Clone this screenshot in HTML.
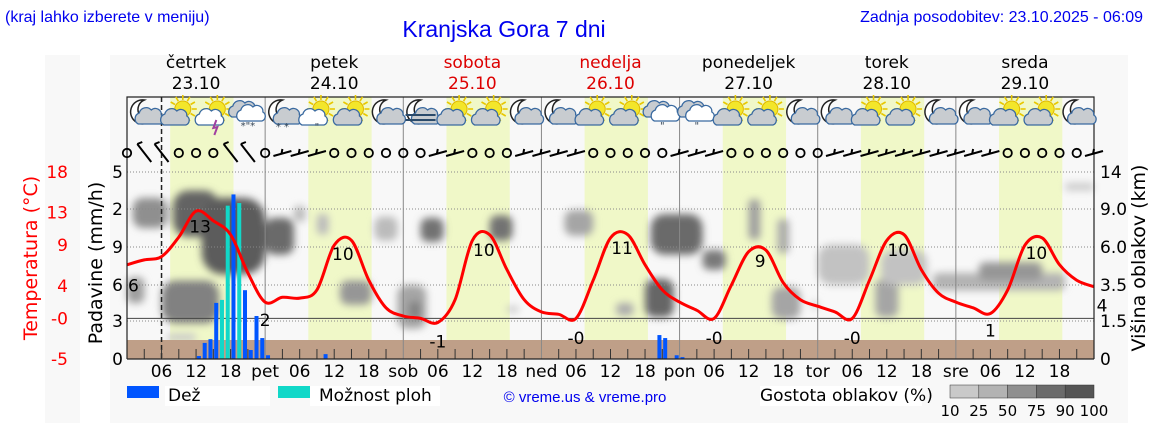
<!DOCTYPE html>
<html><head><meta charset="utf-8"><style>
html,body{margin:0;padding:0;background:#fff;}
svg{display:block;font-family:"DejaVu Sans","Liberation Sans",sans-serif;}
</style></head><body>
<svg id="c" width="1152" height="443" viewBox="0 0 1152 443" xmlns="http://www.w3.org/2000/svg">
<defs>
<filter id="blur" x="-50%" y="-50%" width="200%" height="200%"><feGaussianBlur stdDeviation="4"/></filter>
</defs>
<rect x="45" y="55" width="35" height="368" fill="#f8f8f8"/>
<rect x="110" y="55" width="1018" height="368" fill="#f8f8f8"/>
<text x="5" y="22" font-family="Liberation Sans, sans-serif" font-size="16" fill="#0000ee">(kraj lahko izberete v meniju)</text>
<text x="504" y="37" text-anchor="middle" font-family="Liberation Sans, sans-serif" font-size="23" fill="#0000ee">Kranjska Gora 7 dni</text>
<text x="1143" y="22" text-anchor="end" font-family="Liberation Sans, sans-serif" font-size="16" fill="#0000ee">Zadnja posodobitev: 23.10.2025 - 06:09</text>
<g id="plot"></g>
</svg>
<script>
// ---- data ----
const dayNames = ["četrtek","petek","sobota","nedelja","ponedeljek","torek","sreda"];
const dayDates = ["23.10","24.10","25.10","26.10","27.10","28.10","29.10"];
const dayRed = [false,false,true,true,false,false,false];
const dayAbbr = ["pet","sob","ned","pon","tor","sre"];
const tempHours = [0,3,6,9,12,15,18,21,24,27,30,33,36,39,42,45,48,51,54,57,60,63,66,69,72,75,78,81,84,87,90,93,96,99,102,105,108,111,114,117,120,123,126,129,132,135,138,141,144,147,150,153,156,159,162,165,168];
const tempValues = [6.6,7.2,7.6,10.0,13.2,12.0,10.3,5.6,2.0,2.6,2.5,3.5,9.0,9.6,4.7,1.3,0.3,0.0,-0.5,2.3,9.6,10.3,6.0,2.3,0.8,0.5,0.0,4.7,9.9,10.3,6.6,3.5,2.0,1.0,0.0,4.1,8.2,8.4,4.4,2.3,1.5,0.8,0.0,4.7,9.6,10.3,6.0,3.1,2.0,1.3,0.6,3.5,9.0,9.9,6.6,4.7,3.9];
const tempLabelHours = [0,12.7,24,37.5,54,62,78,86,102,110,126,134,150,158,168];
const tempLabelValues = [6.4,13.3,2,9.9,-0.6,10.4,-0.2,10.6,-0.2,9,-0.2,10.4,0.7,10.0,3.9];
const tempLabelKind = ["edge","max","min","max","min","max","min","max","min","max","min","max","min","max","edge"];
const rainHours = [12,13,14,15,18,20,21,22,23,24,34,92,93,95,96];
const rainValues = [0.08,0.43,0.53,1.5,4.4,1.84,0.24,1.15,0.56,0.1,0.13,0.64,0.56,0.1,0.05];
const showerHours = [16,17,19];
const showerValues = [1.58,4.1,4.17];
// cloud blobs: start hour, end hour, low km, high km, density %
const cloudH0 = [1,8,13,6,24,0,7,29,33,43,37,47,49,51,63,66,76,91,100,90,85,108,112,113,119,120,130,131,140,148,163];
const cloudH1 = [7,16,24,16,29,3,12,31,35,47,42.5,52,51,55,67,68,81,100,104,95,88,110,117,115,120,129,134,139,163,159,168];
const cloudK0 = [7.5,6.8,4.2,1.4,5.5,2.5,0.7,8.0,7.0,6.5,2.4,1.2,1.6,6.4,6.5,2.0,6.9,5.5,4.5,1.7,1.8,6.6,1.6,5.6,2.2,3.5,1.7,3.5,3.2,3.8,11.5];
const cloudK1 = [10.5,11.5,10.5,3.8,8.3,4.0,1.0,9.4,8.6,8.4,3.8,3.5,2.6,8.3,8.5,2.3,8.9,8.6,5.8,3.9,2.5,10.3,3.4,8.2,2.6,6.2,3.9,5.8,4.3,5.0,12.5];
const cloudD = [60,90,95,70,85,50,20,30,30,30,55,45,70,80,80,25,45,85,75,88,40,50,45,40,25,25,45,25,35,55,20];
const windHours = [0,3,6,9,12,15,18,21,24,27,30,33,36,39,42,45,48,51,54,57,60,63,66,69,72,75,78,81,84,87,90,93,96,99,102,105,108,111,114,117,120,123,126,129,132,135,138,141,144,147,150,153,156,159,162,165,168];
const windSpeed = [0,3,3,0,0,0,3,3,0,2,2,2,0,0,0,0,0,0,2,2,0,0,0,2,2,2,2,0,0,0,0,0,2,2,2,0,0,0,0,0,0,2,2,2,2,2,2,2,2,2,2,0,0,0,0,0,2];
const iconTypes = ["moon","sun","storm","snow","moonsnow","sunrain","sun","moon","fog","sun","sun","moon","moon","sun","sun","rain","rain","sun","sun","moon","moon","sun","sun","moon","moon","sun","sun","moon"];
const iconOffsets = [3,9,15,21];
const tempTicks = [18,13,9,4,-0,-5];
const tempTickText = ["18","13","9","4","-0","-5"];
const precipTickText = ["5","2","9","6","3","0"];
const cloudTickKm = [14,9,6,3.5,1.5,0];
const cloudTickText = ["14","9.0","6.0","3.5","1.5","0"];

// ---- axes ----
const X0=127, X1=1094, Y0=359, YT=172;
const xh = h => X0 + h*(X1-X0)/168;
const yt = t => 318.4 - t*8.13;
const yp = p => Y0 - p*37.4;
const kmPts=[[0,359],[1.5,321],[3.5,285],[6,247],[9,209],[14,172],[20,150]];
function yk(k){for(let i=0;i<kmPts.length-1;i++){const a=kmPts[i],b=kmPts[i+1];if(k<=b[0]){return a[1]+(k-a[0])/(b[0]-a[0])*(b[1]-a[1]);}}return 150;}
const NS="http://www.w3.org/2000/svg";
const plot=document.getElementById('plot');
function mk(tag,attrs,parent){const e=document.createElementNS(NS,tag);for(const k in attrs)e.setAttribute(k,attrs[k]);(parent||plot).appendChild(e);return e;}
function txt(x,y,s,attrs,parent){const e=mk('text',Object.assign({x:x,y:y},attrs),parent);e.textContent=s;return e;}

let e=mk('rect',{x:X0,y:97,width:X1-X0,height:Y0-97,fill:'#f8f8f8'});


for(let d=0;d<7;d++){
  e=mk('rect',{x:xh(d*24+7.5),y:97,width:xh(18.5)-xh(7.5),height:Y0-97,fill:'#f0f8c8'});
  
  
}
const cg=mk('g',{filter:'url(#blur)'});


function grayOf(d){const v=Math.round(230-d*1.45);return 'rgb('+v+','+v+','+v+')';}
for(let i=0;i<cloudH0.length;i++){
  const x=xh(cloudH0[i]),w=xh(cloudH1[i])-x,y=yk(cloudK1[i]),h=yk(cloudK0[i])-y;
  e=mk('rect',{x:x,y:y,width:w,height:h,rx:Math.min(w,h)/3,fill:grayOf(cloudD[i])},cg);
  
  
}
e=mk('rect',{x:X0,y:340,width:X1-X0,height:19,fill:'#bf9f88'});


[172,209,247,285,321].forEach(y=>{
  e=mk('line',{x1:X0,x2:X1,y1:y,y2:y,stroke:'#888','stroke-width':1,'stroke-dasharray':'1,2'});
  
  
});
e=mk('line',{x1:X0,x2:X1,y1:yt(0),y2:yt(0),stroke:'#444','stroke-width':1});


for(let d=1;d<7;d++){
  e=mk('line',{x1:xh(d*24),x2:xh(d*24),y1:97,y2:Y0,stroke:'#888','stroke-width':1});
  
  
}
e=mk('line',{x1:xh(6),x2:xh(6),y1:97,y2:Y0,stroke:'#222','stroke-width':1.5,'stroke-dasharray':'5,3'});


function bar(h,v,col,name){
  const w=4,x=xh(h+0.5)-w/2;
  const b=mk('rect',{x:x,y:yp(v),width:w,height:Y0-yp(v),fill:col});
  
  
}
rainHours.forEach((h,i)=>bar(h,rainValues[i],'#0055ff','rain-bar'));
showerHours.forEach((h,i)=>bar(h,showerValues[i],'#11d8c8','shower-bar'));
const pts=tempHours.map((h,i)=>[xh(h),yt(tempValues[i])]);
let dstr='M'+pts[0][0]+','+pts[0][1];
for(let i=0;i<pts.length-1;i++){
  const p0=pts[Math.max(0,i-1)],p1=pts[i],p2=pts[i+1],p3=pts[Math.min(pts.length-1,i+2)];
  const c1=[p1[0]+(p2[0]-p0[0])/6,p1[1]+(p2[1]-p0[1])/6],c2=[p2[0]-(p3[0]-p1[0])/6,p2[1]-(p3[1]-p1[1])/6];
  dstr+=' C'+c1[0].toFixed(1)+','+c1[1].toFixed(1)+' '+c2[0].toFixed(1)+','+c2[1].toFixed(1)+' '+p2[0].toFixed(1)+','+p2[1].toFixed(1);
}
e=mk('path',{d:dstr,fill:'none',stroke:'#ff0000','stroke-width':3,'stroke-linejoin':'round'});


tempLabelHours.forEach((h,i)=>{
  const v=tempLabelValues[i],r=Math.round(v);
  const s=(v<0&&r===0)?'-0':String(r);
  const k=tempLabelKind[i];
  let x=xh(h), anchor='middle';
  if(i===0){x=X0+1;anchor='start';}
  if(i===tempLabelHours.length-1){x=X1+8;anchor='middle';}
  const y=yt(v)+(k==='max'?22:(k==='min'?24:25));
  const t=txt(x,y,s,{'text-anchor':anchor,'font-size':17,fill:'#000'});
  
  
});
for(let h=3;h<168;h+=3){
  e=mk('line',{x1:xh(h),x2:xh(h),y1:Y0,y2:Y0-(h%24===0?Y0-97:10),stroke:h%24===0?'none':'#333','stroke-width':1});
  
  
}
e=mk('path',{d:'M'+X0+','+Y0+' V97 H'+X1+' V'+Y0+' M'+X0+','+Y0+' H'+X1,fill:'none',stroke:'#222','stroke-width':1.2});


const wg=mk('g',{stroke:'#000',fill:'none','stroke-width':2});


windHours.forEach((h,i)=>{
  const x=xh(h),y=153,s=windSpeed[i];
  let m;
  if(s===0){m=mk('circle',{cx:x,cy:y,r:4.2,'stroke-width':1.8},wg);}
  else if(s===3){m=mk('path',{d:'M'+(x-7)+','+(y-9)+' L'+(x+7)+','+(y+9)+' M'+(x-7)+','+(y-9)+' l5,-2'},wg);}
  else{m=mk('path',{d:'M'+(x-9)+','+(y+3)+' L'+(x+9)+','+(y-2)+' M'+(x-1)+','+(y+1)+' l1,-5'},wg);}
  
  
});
function cloud(g,cx,cy,fill){
  mk('path',{d:'M'+(cx-12)+','+(cy+7)+' a6,6 0 0 1 1,-11 a7,7 0 0 1 12,-3 a6,6 0 0 1 10,5 a5,5 0 0 1 -1,9 z',fill:fill,stroke:'#3a6aa0','stroke-width':1.3},g);
}
function sun(g,cx,cy){
  for(let a=0;a<360;a+=30){const r=a*Math.PI/180;mk('line',{x1:cx+Math.cos(r)*9,y1:cy+Math.sin(r)*9,x2:cx+Math.cos(r)*14,y2:cy+Math.sin(r)*14,stroke:'#e8c800','stroke-width':1.6},g);}
  mk('circle',{cx:cx,cy:cy,r:8,fill:'#f3e62a',stroke:'#e0b800','stroke-width':1},g);
}
function moon(g,cx,cy){
  mk('path',{d:'M'+(cx+3)+','+(cy-12)+' a12,12 0 1 0 8,19 a10,10 0 0 1 -8,-19 z',fill:'#fff',stroke:'#222','stroke-width':1.5},g);
}
iconTypes.forEach((t,i)=>{
  const d=Math.floor(i/4),h=d*24+iconOffsets[i%4];
  const cx=xh(h),cy=112;
  const g=mk('g',{});
  
  
  if(t==='moon'||t==='moonsnow'||t==='fog'){moon(g,cx-3,cy);cloud(g,cx+6,cy+5,'#c8ccd0');}
  if(t==='fog'){[0,5].forEach(o=>mk('line',{x1:cx-15,x2:cx+15,y1:cy+3+o,y2:cy+3+o,stroke:'#2a4a6a','stroke-width':2},g));}
  if(t==='sun'||t==='sunrain'||t==='storm'){sun(g,cx+4,cy-3);cloud(g,cx-3,cy+6,t==='sun'?'#c8ccd0':'#fff');}
  if(t==='storm'){mk('path',{d:'M'+(cx+3)+','+(cy+8)+' l-3,8 l4,-1 l-3,8',fill:'none',stroke:'#a040a0','stroke-width':2},g);}
  if(t==='snow'||t==='rain'){cloud(g,cx-4,cy-2,'#c8ccd0');cloud(g,cx+4,cy+2,'#fff');txt(cx,cy+17,t==='snow'?'*"*':'"',{'text-anchor':'middle','font-size':10,fill:'#345'},g);}
  if(t==='moonsnow'||t==='sunrain'){txt(cx,cy+18,t==='moonsnow'?'* *':'"',{'text-anchor':'middle','font-size':10,fill:'#345'},g);}
});
for(let d=0;d<7;d++){
  const cx=xh(d*24+12),col=dayRed[d]?'#dd0000':'#000';
  let t=txt(cx,68,dayNames[d],{'text-anchor':'middle','font-size':17,fill:col});
  
  
  t=txt(cx,89,dayDates[d],{'text-anchor':'middle','font-size':17,fill:col});
  
  
  ["06","12","18"].forEach((s,j)=>{
    const l=txt(xh(d*24+6*(j+1)),377,s,{'text-anchor':'middle','font-size':17,fill:'#000'});
    
    
  });
  if(d<6){
    const l=txt(xh(d*24+24),377,dayAbbr[d],{'text-anchor':'middle','font-size':17,fill:'#000'});
    
    
  }
}
tempTicks.forEach((v,i)=>{
  const l=txt(68,yt(v)+6,tempTickText[i],{'text-anchor':'end','font-size':17,fill:'#ff0000'});
  
  
});
precipTickText.forEach((s,i)=>{
  const l=txt(123,[172,209,247,285,321,359][i]+6,s,{'text-anchor':'end','font-size':17,fill:'#000'});
  
  
});
cloudTickKm.forEach((k,i)=>{
  const l=txt(1100,yk(k)+6,cloudTickText[i],{'font-size':17,fill:'#000'});
  
  
});
let at=txt(0,0,'Temperatura (°C)',{'text-anchor':'middle','font-size':19,fill:'#ff0000',transform:'translate(37,258) rotate(-90)'});


at=txt(0,0,'Padavine (mm/h)',{'text-anchor':'middle','font-size':19,fill:'#000',transform:'translate(102,263) rotate(-90)'});


at=txt(0,0,'Višina oblakov (km)',{'text-anchor':'middle','font-size':19,fill:'#000',transform:'translate(1145,258) rotate(-90)'});


e=mk('rect',{x:165,y:386,width:105,height:20,fill:'#fff'});
e=mk('rect',{x:310,y:386,width:130,height:20,fill:'#fff'});
e=mk('rect',{x:760,y:386,width:162,height:20,fill:'#fff'});
e=mk('rect',{x:127,y:386,width:32,height:12,fill:'#0055ff'});


at=txt(168,401,'Dež',{'font-size':17,fill:'#000'});


e=mk('rect',{x:278,y:386,width:32,height:12,fill:'#11d8c8'});


at=txt(319,401,'Možnost ploh',{'font-size':17,fill:'#000'});


at=txt(585,402,'© vreme.us & vreme.pro',{'text-anchor':'middle','font-family':'Liberation Sans, sans-serif','font-size':15,fill:'#0000ee'});


at=txt(760,401,'Gostota oblakov (%)',{'font-size':17,fill:'#000'});


const legD=[10,25,50,75,90];
const legText=["10","25","50","75","90","100"];
legD.forEach((dv,i)=>{
  const r=mk('rect',{x:950+i*28.8,y:385,width:28.8,height:13,fill:grayOf(dv+10),stroke:'#333','stroke-width':0.5});
  
  
});
legText.forEach((s,i)=>{
  const l=txt(950+i*28.8,416,s,{'text-anchor':'middle','font-size':15,fill:'#000'});
  
  
});
</script>
</body></html>
